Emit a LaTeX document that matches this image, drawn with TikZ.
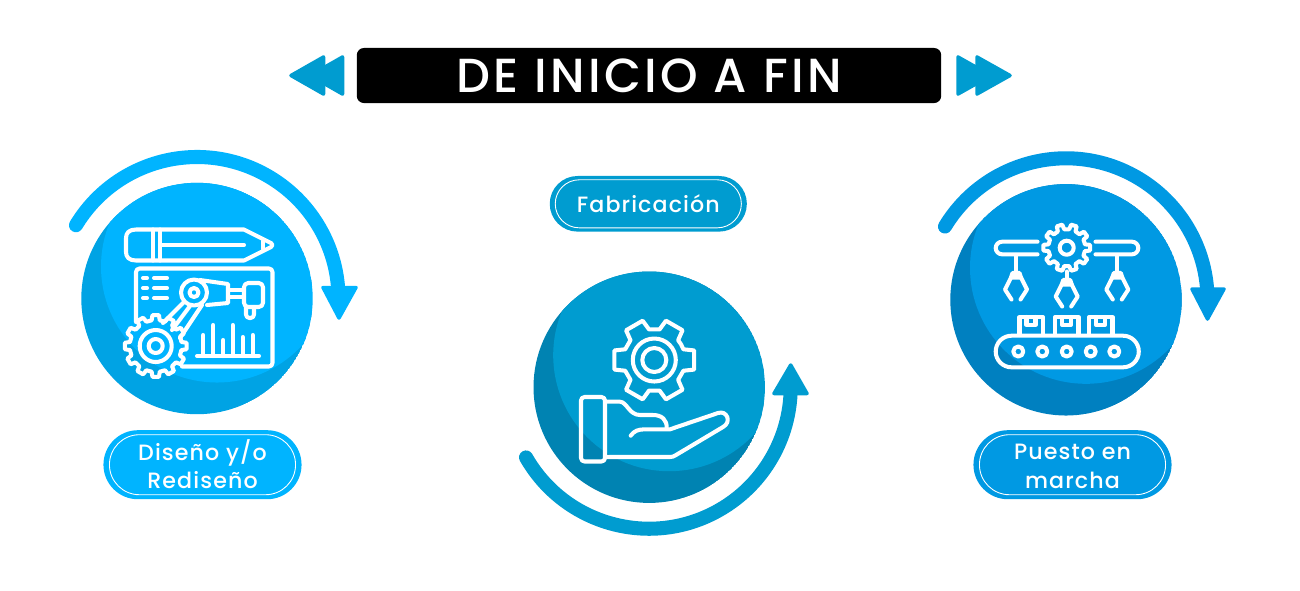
\documentclass[tikz,border=0pt]{standalone}
\usepackage{fontspec}
\usetikzlibrary{arrows,positioning,shapes.misc}
\newfontfamily\titlefont[LetterSpace=7]{Poppins Medium}
\newfontfamily\labelfont[LetterSpace=5]{Poppins Medium}

\definecolor{skylight}{HTML}{00B4FF}
\definecolor{skydark}{HTML}{00A3E4}
\definecolor{teallight}{HTML}{009CD0}
\definecolor{tealdark}{HTML}{0083B2}
\definecolor{azurelight}{HTML}{0099E3}
\definecolor{azuredark}{HTML}{0080C0}

\tikzset{
  icon/.style={draw=white,line width=1.15pt,line join=round,line cap=round},
  sweep/.style={line width=4pt,line cap=round},
  tiptri/.style={line width=1pt,line join=round},
  pillbg/.style={rounded rectangle,fill=#1,inner sep=0pt},
  pilltext/.style={rounded rectangle,draw=white!75,line width=.25pt,inner sep=0pt,align=center,
    text=white,font=\labelfont\fontsize{6.3}{8}\selectfont}
}

% disc with the lighter disc pushed up and right
\newcommand{\shadedisc}[4]{
  \begin{scope}
    \clip (#1,#2) circle (115.7);
    \fill [#4] (#1,#2) circle (115.7);
    \fill [#3] (#1+20,#2-32) circle (116);
  \end{scope}
}
% gear outline: teeth, root radius, tip radius, half tooth angle
\newcommand{\gearpath}[4]{
  \pgfmathsetmacro{\gearstep}{360/#1}
  \draw [icon] (-\gearstep/2:#2)
    \foreach \t in {1,...,#1} {
      -- ({\t*\gearstep-\gearstep-#4*1.5}:#2) -- ({\t*\gearstep-\gearstep-#4}:#3)
      -- ({\t*\gearstep-\gearstep+#4}:#3) -- ({\t*\gearstep-\gearstep+#4*1.5}:#2)
    } -- cycle;
}

\begin{document}
\begin{tikzpicture}[x=0.01cm,y=-0.01cm]
  \useasboundingbox (0,0) rectangle (1300,590);

  % heading
  \node [fill=black,rounded corners=2pt,minimum width=5.84cm,minimum height=.55cm,inner sep=0pt,
    text=white,font=\titlefont\fontsize{13.6}{14}\selectfont] (heading) at (649,75.5) {DE INICIO A FIN};
  \foreach \dx in {0,19} {
    \fill [teallight,draw=teallight,tiptri] (291+\dx,75.5) -- (323.5+\dx,57) -- (323.5+\dx,94) -- cycle;
    \fill [teallight,draw=teallight,tiptri] (1010-\dx,75.5) -- (977-\dx,57) -- (977-\dx,94) -- cycle;
  }

  % left
  \shadedisc{197}{298.5}{skylight}{skydark}
  \draw [sweep,skylight] (197,298.5) ++(211.2:141.5) arc (211.2:355.3:141.5);
  \fill [skylight,draw=skylight,tiptri] (323,287.5) -- (356,287.5) -- (339,318) -- cycle;
  \node [pillbg=skylight,minimum width=1.98cm,minimum height=.69cm] (design) at (202.5,464.7) {};
  \node [pilltext,minimum width=1.86cm,minimum height=.6cm,text depth=.3pt] (designtext) at (design) {\strut Diseño y/o\\\strut Rediseño};

  % pencil
  \draw [icon] (244,229.5) -- (136,229.5) .. controls (129,229.5) and (126,233) .. (126,238) -- (126,252)
    .. controls (126,257) and (129,260.5) .. (136,260.5) -- (244,260.5) -- (271,247) .. controls (273,246) and (273,244) .. (271,243) -- cycle;
  \draw [icon] (153,229.5) -- (153,260.5) (160,229.5) -- (160,260.5) (160,245) -- (244,245) (263,241) -- (263,249);
  % board
  \draw [icon,rounded corners=1pt] (136,322) -- (136,268.5) -- (272.5,268.5) -- (272.5,366.5) -- (182,366.5);
  \foreach \y in {278,288,298} {
    \draw [icon] (143,\y) -- (147,\y) (154,\y) -- (167,\y);
  }
  % robot arm
  \draw [icon] (194,292.5) circle (13) (194,292.5) circle (4.5);
  \draw [icon] (184,302) -- (163,323) (202,305) -- (180,338) (190,306) -- (172,330);
  \draw [icon] (200,280) -- (228,284) -- (228,303) -- (207,305);
  \draw [icon] (228,290) -- (244,290) (228,297) -- (244,297);
  \draw [icon,rounded corners=1.2pt] (244,283) -- (263,283) -- (263,307) -- (244,307) -- cycle;
  \draw [icon,rounded corners=1pt] (246,307) -- (246,318) -- (254,318) -- (254,307);
  % bars
  \draw [icon] (197,356) -- (259,356);
  \foreach \x/\t in {203.3/335,213.3/325,223.3/340,232.7/325,242.7/337,252.7/335} {
    \draw [icon] (\x,356) -- (\x,\t);
  }
  \begin{scope}[shift={(155.7,346)}]
    \gearpath{12}{26}{31}{6}
    \draw [icon] (0,0) circle (16) (0,0) circle (7);
  \end{scope}

  % middle
  \node [pillbg=teallight,minimum width=1.97cm,minimum height=.556cm] (build) at (648.3,203.8) {};
  \node [pilltext,minimum width=1.86cm,minimum height=.48cm] (buildtext) at (build) {Fabricación};
  \shadedisc{649.2}{387.2}{teallight}{tealdark}
  \draw [sweep,teallight] (649,387) ++(150.2:141.7) arc (150.2:2.8:141.7);
  \fill [teallight,draw=teallight,tiptri] (774,393.5) -- (807,393.5) -- (790.7,365) -- cycle;
  \begin{scope}[shift={(654.3,360)}]
    \gearpath{6}{31}{41}{13.5}
    \draw [icon] (0,0) circle (21.5) (0,0) circle (12);
  \end{scope}
  % hand
  \draw [icon,rounded corners=1pt] (581,397) rectangle (605,461.5);
  \draw [icon] (605,401.7) -- (620,401.7) .. controls (627,402) and (629,415) .. (640,415)
    -- (653,415) .. controls (662,415) and (667,420) .. (666.7,428);
  \draw [icon] (630.7,435.7) .. controls (634,431) and (638,429.3) .. (645,429.3) -- (670,429.3)
    -- (718,413) .. controls (727,410) and (732,422) .. (723,427) -- (676,455)
    .. controls (674,456.5) and (672,457) .. (670,457) -- (605,457);

  % right
  \shadedisc{1066}{299.8}{azurelight}{azuredark}
  \draw [sweep,azurelight] (1066,299.8) ++(211.2:141.5) arc (211.2:355.3:141.5);
  \fill [azurelight,draw=azurelight,tiptri] (1192,289) -- (1224,289) -- (1207.5,319) -- cycle;
  \node [pillbg=azurelight,minimum width=1.98cm,minimum height=.69cm] (startup) at (1072.5,464.7) {};
  \node [pilltext,minimum width=1.86cm,minimum height=.6cm,text depth=.3pt] (startuptext) at (startup) {\strut Puesto en\\\strut marcha};

  % rails and gear
  \draw [icon] (1037.5,241.7) -- (1002,241.7) arc (270:90:6.3) -- (1037.5,254.3);
  \draw [icon] (1095.5,241.7) -- (1132,241.7) arc (-90:90:6.3) -- (1095.5,254.3);
  \begin{scope}[shift={(1066.7,247.7)}]
    \gearpath{10}{18.5}{23.5}{7}
    \draw [icon] (0,0) circle (7);
  \end{scope}
  % claws
  \foreach \x/\y in {1016/276.5,1066.7/283.5,1117.3/276.5} {
    \begin{scope}[shift={(\x,\y)}]
      \draw [icon] (-3.5,-3.5) -- (3.5,-3.5) -- (5,1) -- (-5,1) -- cycle;
      \draw [icon] (-5,1) -- (-11,13) -- (-4.5,23) (5,1) -- (11,13) -- (4.5,23);
    \end{scope}
  }
  \draw [icon] (1016,255) -- (1016,273) (1117.3,255) -- (1117.3,273) (1066.7,271.5) -- (1066.7,280);
  % boxes and belt
  \foreach \x in {1019.5,1055,1089} {
    \draw [icon] (\x,335) -- (\x,317) -- (\x+23.5,317) -- (\x+23.5,335);
    \draw [icon] (\x+7,317) -- (\x+7,325) -- (\x+16,325) -- (\x+16,317);
  }
  \draw [icon] (1011.5,335.7) -- (1123,335.7) arc (-90:90:15.8) -- (1011.5,367.3) arc (90:270:15.8);
  \foreach \x in {1018.3,1042.3,1066.7,1090.7,1114.3} {
    \draw [icon] (\x,351.5) circle (5);
  }
\end{tikzpicture}
\end{document}
